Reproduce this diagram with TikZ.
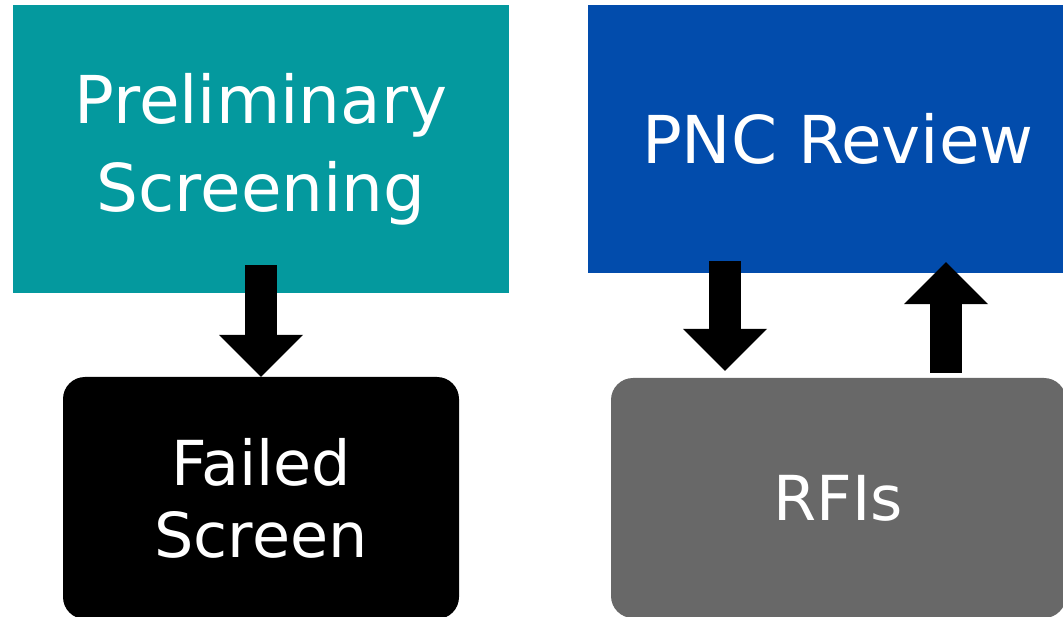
\documentclass[tikz,border=0pt]{standalone}
\usepackage{fontspec}
\setmainfont{DejaVu Sans}
\usetikzlibrary{%
  arrows.meta,%
  positioning%
}
\definecolor{screenteal}{RGB}{4,153,158}
\definecolor{pncblue}{RGB}{2,76,172}
\definecolor{rfigray}{RGB}{104,104,104}

\tikzset{
  stage/.style={inner sep=0pt, text=white, align=center},
  bigtext/.style={font=\fontsize{66}{88}\selectfont},
  smalltext/.style={font=\fontsize{62}{72}\selectfont},
  blockarrow/.style={line width=32pt,
    -{Triangle[width=84pt,length=42pt,line width=0pt]}}
}

\begin{document}
\begin{tikzpicture}[x=1pt,y=-1pt]
\useasboundingbox (0,0) rectangle (1063,617);

\node[stage,bigtext,fill=screenteal,minimum width=496pt,minimum height=288pt]
  (prelim) at (261,149) {Preliminary\\Screening};
\node[stage,bigtext,fill=pncblue,minimum width=500pt,minimum height=268pt]
  (review) at (838,139) {PNC Review};
\node[stage,smalltext,fill=black,rounded corners=22pt,minimum width=396pt,minimum height=242pt]
  (failed) at (261,498) {Failed\\Screen};
\node[stage,smalltext,fill=rfigray,rounded corners=22pt,minimum width=455pt,minimum height=240pt]
  (rfis) at (838.5,498) {RFIs};

\draw[blockarrow] ([yshift=28pt]prelim.south) -- (failed.north);
\draw[blockarrow] ([xshift=-113pt,yshift=12pt]review.south) -- ([xshift=-113.5pt,yshift=7pt]rfis.north);
\draw[blockarrow] ([xshift=107.5pt,yshift=5pt]rfis.north) -- ([xshift=108pt,yshift=11pt]review.south);

\end{tikzpicture}
\end{document}
